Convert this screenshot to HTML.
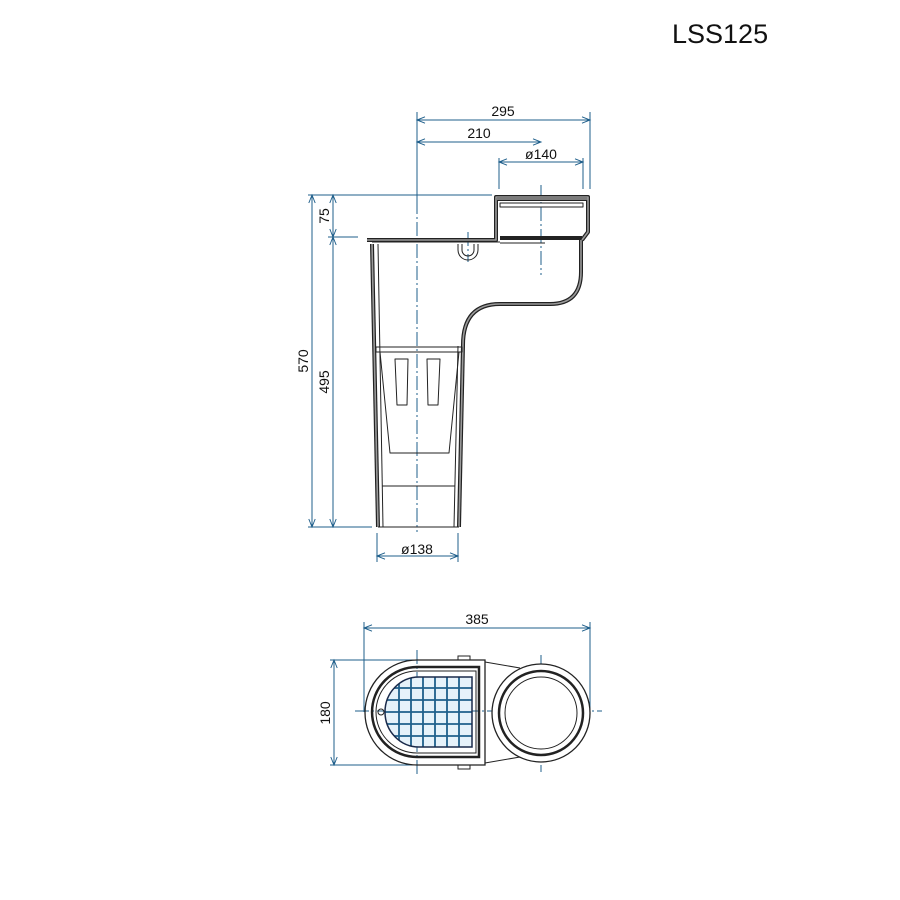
<!DOCTYPE html>
<html><head><meta charset="utf-8"><style>
html,body{margin:0;padding:0;background:#fff;width:900px;height:900px;overflow:hidden}
svg{display:block}
text{font-family:"Liberation Sans",sans-serif;fill:#111}
</style></head><body>
<svg width="900" height="900" viewBox="0 0 900 900" xmlns="http://www.w3.org/2000/svg">
<defs>
<marker id="a" viewBox="0 0 10 10" refX="10" refY="5" markerWidth="12" markerHeight="8" orient="auto-start-reverse" markerUnits="userSpaceOnUse">
<path d="M0,1 L10,5 L0,9" fill="none" stroke="#1f5f8b" stroke-width="1.2"/>
</marker>
<clipPath id="g"><path d="M472,677 H419 A34,35 0 0 0 419,747 H472 Z"/></clipPath>
</defs>
<text x="672" y="43" font-size="27">LSS125</text>

<g stroke="#1f5f8b" stroke-width="1" fill="none">
<line x1="417" y1="120" x2="590" y2="120" marker-start="url(#a)" marker-end="url(#a)"/>
<line x1="417" y1="142" x2="541" y2="142" marker-start="url(#a)" marker-end="url(#a)"/>
<line x1="499" y1="162" x2="583" y2="162" marker-start="url(#a)" marker-end="url(#a)"/>
<line x1="590" y1="112" x2="590" y2="189"/>
<line x1="499" y1="158" x2="499" y2="189"/>
<line x1="583" y1="158" x2="583" y2="189"/>
<line x1="417" y1="112" x2="417" y2="200"/>
<line x1="312" y1="195" x2="312" y2="527" marker-start="url(#a)" marker-end="url(#a)"/>
<line x1="333" y1="195" x2="333" y2="237" marker-start="url(#a)" marker-end="url(#a)"/>
<line x1="333" y1="237" x2="333" y2="527" marker-start="url(#a)" marker-end="url(#a)"/>
<line x1="308" y1="195" x2="492" y2="195"/>
<line x1="328" y1="237" x2="358" y2="237"/>
<line x1="308" y1="527" x2="372" y2="527"/>
<line x1="377" y1="556" x2="458" y2="556" marker-start="url(#a)" marker-end="url(#a)"/>
<line x1="377" y1="533" x2="377" y2="562"/>
<line x1="458" y1="533" x2="458" y2="562"/>
<line x1="364" y1="628" x2="590" y2="628" marker-start="url(#a)" marker-end="url(#a)"/>
<line x1="364" y1="622" x2="364" y2="712"/>
<line x1="590" y1="622" x2="590" y2="712"/>
<line x1="334" y1="660" x2="334" y2="765" marker-start="url(#a)" marker-end="url(#a)"/>
<line x1="330" y1="660" x2="420" y2="660"/>
<line x1="330" y1="765" x2="420" y2="765"/>
</g>
<g stroke="#1f5f8b" stroke-width="1" fill="none" stroke-dasharray="14,3,2,3">
<line x1="417" y1="200" x2="417" y2="532"/>
<line x1="541" y1="185" x2="541" y2="275"/>
<line x1="468" y1="232" x2="468" y2="262"/>
<line x1="355" y1="711" x2="602" y2="711"/>
<line x1="417" y1="650" x2="417" y2="775"/>
<line x1="541" y1="655" x2="541" y2="772"/>
</g>

<g font-size="14">
<text x="503" y="116" text-anchor="middle">295</text>
<text x="479" y="138" text-anchor="middle">210</text>
<text x="541" y="159" text-anchor="middle">ø140</text>
<text x="417" y="554" text-anchor="middle">ø138</text>
<text x="477" y="624" text-anchor="middle">385</text>
<text transform="translate(329,216) rotate(-90)" text-anchor="middle">75</text>
<text transform="translate(308,361) rotate(-90)" text-anchor="middle">570</text>
<text transform="translate(329,382) rotate(-90)" text-anchor="middle">495</text>
<text transform="translate(330,713) rotate(-90)" text-anchor="middle">180</text>
</g>

<g fill="none" stroke-linejoin="round">
<g stroke="#222" stroke-width="4">
<path d="M372,244 L378,527"/>
<path d="M367,240 H496 V197 H588 V232 L582,240"/>
<path d="M581,240 V272 Q581,304 550,304 H500 Q463,304 463,345"/>
<path d="M463,345 L459,527"/>
<path d="M500,238 H582"/>
<path d="M497,199 H588"/>
</g>
<g stroke="#9a9a9a" stroke-width="1.6">
<path d="M372,244 L378,527"/>
<path d="M367,240 H496 V197 H588 V232 L582,240"/>
<path d="M581,240 V272 Q581,304 550,304 H500 Q463,304 463,345"/>
<path d="M463,345 L459,527"/>
<path d="M497,199 H588"/>
</g>
<g stroke="#222" stroke-width="1">
<rect x="500" y="203" width="83" height="4" fill="#fff"/>
<line x1="378" y1="244" x2="383" y2="527"/>
<line x1="458" y1="346" x2="454" y2="527"/>
<line x1="378" y1="527" x2="459" y2="527"/>
<line x1="382" y1="486" x2="455" y2="486"/>
<line x1="372" y1="242" x2="500" y2="242"/>
<line x1="500" y1="243" x2="545" y2="243"/>
<rect x="376" y="347" width="86" height="5"/>
<path d="M380,352 L390,453 H449 L459,352"/>
<path d="M395,359 H408 L407,405 H397 Z"/>
<path d="M427,359 H440 L438,405 H428 Z"/>
<path d="M458,244 V250 A10,10 0 0 0 478,250 V244"/>
<path d="M462,244 V250 A6,6 0 0 0 474,250 V244"/>
</g>
</g>

<g fill="none" stroke="#222">
<path d="M485,660 H417 A52,52.5 0 0 0 417,765 H485 Z" stroke-width="1.3"/>
<path d="M479,667 H417 A45,45 0 0 0 417,757 H479 Z" stroke-width="2.5"/>
<path d="M476,671 H417 A41,41 0 0 0 417,753 H476 Z" stroke-width="1"/>
<path d="M485,662 L520,668 M485,763 L520,757" stroke-width="1"/>
<rect x="458" y="656" width="12" height="4" stroke-width="1"/>
<rect x="458" y="765" width="12" height="4" stroke-width="1"/>
<circle cx="541" cy="713" r="49" fill="#fff" stroke-width="1.3"/>
<circle cx="541" cy="713" r="42" stroke-width="2.5"/>
<circle cx="541" cy="713" r="36" stroke-width="1"/>
<circle cx="381" cy="712" r="3" stroke-width="1"/>
</g>
<g clip-path="url(#g)">
<rect x="380" y="670" width="100" height="85" fill="#e6f2fa"/>
<g stroke="#1f5f8b" stroke-width="1.8">
<line x1="399" y1="670" x2="399" y2="755"/><line x1="411" y1="670" x2="411" y2="755"/>
<line x1="423" y1="670" x2="423" y2="755"/><line x1="435" y1="670" x2="435" y2="755"/>
<line x1="447" y1="670" x2="447" y2="755"/><line x1="459" y1="670" x2="459" y2="755"/>
<line x1="380" y1="688" x2="480" y2="688"/><line x1="380" y1="700" x2="480" y2="700"/>
<line x1="380" y1="712" x2="480" y2="712"/><line x1="380" y1="724" x2="480" y2="724"/>
<line x1="380" y1="736" x2="480" y2="736"/>
</g>
</g>
<path d="M472,677 H419 A34,35 0 0 0 419,747 H472 Z" fill="none" stroke="#1a2a4a" stroke-width="1.5"/>
</svg>
</body></html>
